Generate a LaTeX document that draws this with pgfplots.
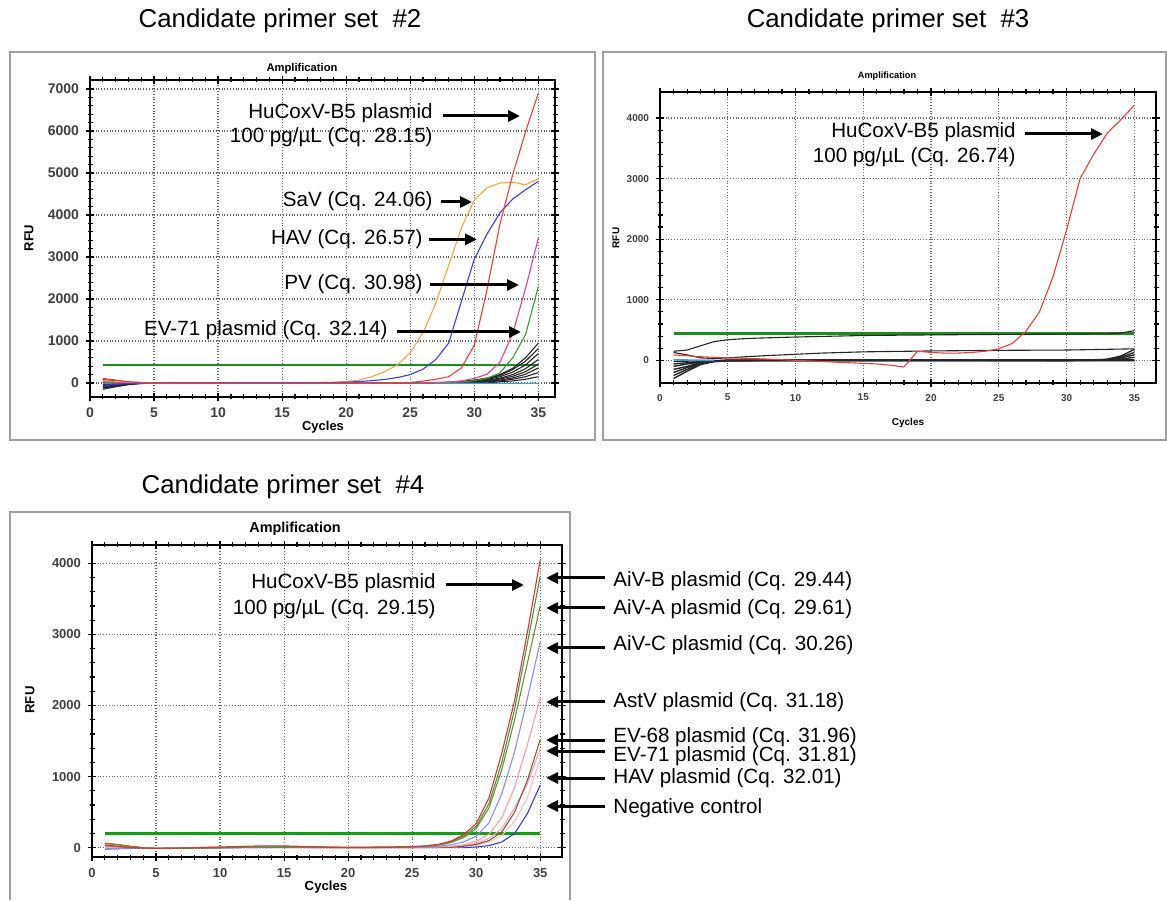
\documentclass[border=0pt]{standalone}
\usepackage{pgfplots}
\pgfplotsset{compat=1.18}
\usepackage{fontspec}
\setmainfont{Liberation Sans}
\usetikzlibrary{arrows.meta}
\definecolor{cOrange}{HTML}{F5A347}
\definecolor{cBlue}{HTML}{3D3DE0}
\definecolor{cRed}{HTML}{F03C3C}
\definecolor{cPink}{HTML}{E8408A}
\definecolor{cGreen}{HTML}{3A9A3A}
\definecolor{cThr}{HTML}{1E8C1E}
\definecolor{cThrB}{HTML}{10A010}
\definecolor{cNC}{HTML}{3AA0DC}
\definecolor{dRed}{HTML}{E83030}
\definecolor{dGreen}{HTML}{2E9E4A}
\definecolor{dOlive}{HTML}{7A8A30}
\definecolor{dLBlue}{HTML}{8C8CF5}
\definecolor{dSalmon}{HTML}{F4A0A0}
\definecolor{dPink}{HTML}{F5A0C8}
\definecolor{dBrown}{HTML}{8B5A2B}
\definecolor{dLPink}{HTML}{F9C0C8}
\definecolor{dBlue}{HTML}{3A3AD0}
\definecolor{frame}{HTML}{A0A0A0}
\pgfplotsset{
  pcr/.style={
    scale only axis, anchor=south west,
    axis line style={line width=0.7pt},
    xmin=0, xtick={0,5,...,35}, minor x tick num=4, minor y tick num=4,
    grid=major, major grid style={densely dotted, black!60, line width=0.6pt},
    tick align=center, major tick length=4pt, minor tick length=2.5pt,
    tick style={black, line width=0.6pt},
    /pgf/number format/assume math mode=true,
    /pgf/number format/set thousands separator={},
    every axis plot/.append style={line width=0.55pt, no marks},
  }
}
\tikzset{ann/.style={font=\fontsize{10.3}{12}\selectfont, inner sep=0pt},
  arr/.style={line width=1.5pt, -{Triangle[length=6pt,width=5.5pt]}}}
\begin{document}
\begin{tikzpicture}
\useasboundingbox (0,0) rectangle (583.5pt,450pt);
% frames
\draw[frame, line width=0.6pt] (5pt,230pt) rectangle (297.5pt,424pt);
\draw[frame, line width=0.6pt] (301.5pt,230pt) rectangle (583pt,424pt);
\draw[frame, line width=0.6pt] (5pt,0pt) -- (5pt,194pt) -- (285pt,194pt) -- (285pt,0pt);
% titles
\node[font=\fontsize{12.9}{15}\selectfont] at (140pt,439.5pt) {Candidate primer set \ \#2};
\node[font=\fontsize{12.9}{15}\selectfont] at (444pt,439.5pt) {Candidate primer set \ \#3};
\node[font=\fontsize{12.9}{15}\selectfont] at (141.5pt,206.5pt) {Candidate primer set \ \#4};

% ---------------- Panel #2 ----------------
\begin{axis}[pcr, at={(45pt,251.5pt)}, width=232.5pt, height=158.5pt,
  xmax=36.3, ymin=-333, ymax=7214, ytick={0,1000,...,7000},
  ticklabel style={font=\fontsize{7}{8}\selectfont\bfseries, text=black!75}]
\addplot[cThr, line width=1pt] coordinates {(1,420)(35,420)};
\addplot[black!85] coordinates {(1,-150)(2,-90)(3,-40)(4,-10)(5,0)(27,0)(28,20)(29,40)(30,70)(31,120)(32,200)(33,350)(34,600)(35,950)};
\addplot[black!85] coordinates {(1,-120)(2,-70)(3,-30)(4,-10)(5,0)(28,5)(29,30)(30,55)(31,100)(32,180)(33,320)(34,520)(35,820)};
\addplot[black!85] coordinates {(1,-80)(2,-50)(3,-20)(4,-5)(5,0)(28,0)(29,25)(30,45)(31,85)(32,150)(33,260)(34,430)(35,700)};
\addplot[black!85] coordinates {(1,-40)(2,-20)(3,-5)(5,0)(29,5)(30,35)(31,65)(32,115)(33,200)(34,340)(35,560)};
\addplot[black!85] coordinates {(1,50)(2,30)(3,10)(5,0)(29,5)(30,30)(31,55)(32,95)(33,160)(34,270)(35,450)};
\addplot[black!85] coordinates {(1,80)(2,50)(3,20)(5,0)(30,5)(31,40)(32,70)(33,120)(34,210)(35,360)};
\addplot[black!85] coordinates {(1,-100)(2,-60)(3,-25)(5,0)(30,5)(31,30)(32,50)(33,90)(34,150)(35,250)};
\addplot[black!85] coordinates {(1,0)(31,0)(32,30)(33,50)(34,90)(35,150)};
\addplot[cNC] coordinates {(1,0)(20,0)(35,-10)};
\addplot[cGreen] coordinates {(1,30)(3,5)(5,0)(28,5)(29,25)(30,55)(31,110)(32,240)(33,600)(34,1150)(35,2300)};
\addplot[cPink] coordinates {(1,40)(2,20)(3,5)(5,0)(26,5)(27,15)(28,25)(29,50)(30,110)(31,210)(32,490)(33,1180)(34,2250)(35,3450)};
\addplot[cOrange] coordinates {(1,60)(2,40)(3,20)(4,10)(5,5)(8,10)(17,14)(18,16)(19,22)(20,35)(21,70)(22,150)(23,270)(24,430)(25,720)(26,1200)(27,1900)(28,2800)(29,3700)(30,4350)(31,4650)(32,4760)(33,4780)(34,4720)(35,4860)};
\addplot[cBlue] coordinates {(1,-60)(2,-30)(3,-10)(4,0)(5,5)(19,8)(20,20)(21,35)(22,55)(23,85)(24,130)(25,200)(26,330)(27,560)(28,950)(29,1950)(30,2950)(31,3550)(32,4050)(33,4380)(34,4600)(35,4800)};
\addplot[cRed] coordinates {(1,110)(2,70)(3,30)(4,10)(5,0)(24,5)(25,15)(26,45)(27,90)(28,150)(29,360)(30,900)(31,2230)(32,3780)(33,4960)(34,5980)(35,6900)};
\end{axis}
\node[font=\fontsize{5.6}{7}\selectfont\bfseries] at (151pt,415.5pt) {Amplification};
\node[font=\fontsize{6.5}{8}\selectfont\bfseries] at (161.5pt,236.5pt) {Cycles};
\node[font=\fontsize{6.5}{8}\selectfont\bfseries, rotate=90] at (14.5pt,331pt) {RFU};
\node[ann, anchor=east] at (216.5pt,393.5pt) {HuCoxV-B5 plasmid};
\node[ann, anchor=east] at (216.5pt,381.5pt) {100 pg/µL (Cq. 28.15)};
\draw[arr] (221.5pt,392pt) -- (260pt,392pt);
\node[ann, anchor=east] at (216.5pt,349.5pt) {SaV (Cq. 24.06)};
\draw[arr] (220.5pt,349pt) -- (236pt,349pt);
\node[ann, anchor=east] at (211.5pt,330.5pt) {HAV (Cq. 26.57)};
\draw[arr] (214.5pt,330.3pt) -- (238.5pt,330.3pt);
\node[ann, anchor=east] at (211.5pt,307.8pt) {PV (Cq. 30.98)};
\draw[arr] (215pt,307.5pt) -- (259.5pt,307.5pt);
\node[ann, anchor=east] at (194pt,285pt) {EV-71 plasmid (Cq. 32.14)};
\draw[arr] (198.5pt,284pt) -- (260.5pt,284pt);

% ---------------- Panel #3 ----------------
\begin{axis}[pcr, at={(330pt,258.5pt)}, width=248pt, height=145.5pt,
  xmax=36.6, ymin=-374, ymax=4429, ytick={0,1000,...,4000},
  ticklabel style={font=\fontsize{5}{6}\selectfont\bfseries, text=black!75}]
\addplot[cThr, line width=1.5pt] coordinates {(1,440)(35,440)};
\addplot[black!85] coordinates {(1,150)(2,170)(3,240)(4,310)(5,340)(6,355)(7,365)(8,372)(10,385)(12,395)(15,410)(20,420)(25,428)(30,432)(33,438)(34,450)(35,490)};
\addplot[black!85] coordinates {(1,130)(2,90)(3,40)(4,30)(5,40)(6,55)(8,80)(10,100)(12,120)(15,140)(20,155)(25,165)(30,170)(35,190)};
\addplot[black!85, line width=0.7pt] coordinates {(1,-300)(2,-180)(3,-70)(4,-20)(5,-10)(8,0)(15,5)(20,5)(25,0)(30,-5)(32,0)(33,20)(34,70)(35,180)};
\addplot[black!85, line width=0.7pt] coordinates {(1,-250)(2,-150)(3,-60)(4,-20)(5,-5)(10,0)(20,0)(30,0)(33,10)(34,50)(35,130)};
\addplot[black!85, line width=0.7pt] coordinates {(1,-200)(2,-120)(3,-50)(4,-15)(5,0)(20,0)(30,0)(33,10)(34,40)(35,90)};
\addplot[black!85, line width=0.7pt] coordinates {(1,-150)(2,-100)(3,-40)(4,-10)(5,0)(30,0)(34,20)(35,50)};
\addplot[black!85, line width=0.7pt] coordinates {(1,-100)(2,-60)(3,-30)(4,-10)(5,0)(35,10)};
\addplot[black!85, line width=0.7pt] coordinates {(1,-60)(2,-40)(3,-20)(5,0)(35,0)};
\addplot[black!85, line width=0.7pt] coordinates {(1,-20)(3,-5)(35,-5)};
\addplot[cNC, line width=0.8pt] coordinates {(1,10)(2,5)(3,0)(4,0)};
\addplot[cRed] coordinates {(1,90)(2,75)(3,60)(4,50)(5,40)(6,35)(7,28)(8,20)(9,10)(10,0)(11,-10)(12,-20)(13,-30)(14,-40)(15,-50)(16,-60)(17,-80)(18,-110)(19,150)(20,130)(21,120)(22,120)(23,130)(24,150)(25,190)(26,280)(27,480)(28,800)(29,1380)(30,2150)(31,3000)(32,3400)(33,3750)(34,3970)(35,4210)};
\end{axis}
\node[font=\fontsize{4.6}{6}\selectfont\bfseries] at (443.5pt,412pt) {Amplification};
\node[font=\fontsize{5}{6}\selectfont\bfseries] at (454pt,238.5pt) {Cycles};
\node[font=\fontsize{5}{6}\selectfont\bfseries, rotate=90] at (308pt,331pt) {RFU};
\node[ann, anchor=east] at (508pt,384pt) {HuCoxV-B5 plasmid};
\node[ann, anchor=east] at (508pt,371.3pt) {100 pg/µL (Cq. 26.74)};
\draw[arr] (512.5pt,383pt) -- (551.5pt,383pt);

% ---------------- Panel #4 ----------------
\begin{axis}[pcr, at={(46pt,21.5pt)}, width=235pt, height=156pt,
  xmax=36.7, ymin=-131, ymax=4258, ytick={0,1000,...,4000},
  ticklabel style={font=\fontsize{6.5}{8}\selectfont\bfseries, text=black!75}]
\addplot[cThrB, line width=1.1pt] coordinates {(1,200)(35,200)};
\addplot[dBlue] coordinates {(1,-20)(3,-10)(10,0)(29,0)(30,10)(31,30)(32,80)(33,200)(34,480)(35,880)};
\addplot[dLPink] coordinates {(1,0)(28,5)(29,15)(30,35)(31,80)(32,170)(33,370)(34,700)(35,1250)};
\addplot[dPink] coordinates {(1,10)(3,0)(28,10)(29,25)(30,60)(31,130)(32,270)(33,560)(34,900)(35,1400)};
\addplot[dBrown] coordinates {(1,65)(2,45)(3,20)(4,0)(5,-10)(8,-10)(12,5)(16,5)(20,0)(25,0)(28,5)(29,20)(30,45)(31,100)(32,220)(33,500)(34,950)(35,1520)};
\addplot[dSalmon] coordinates {(1,20)(3,0)(10,0)(20,0)(27,10)(28,20)(29,40)(30,90)(31,190)(32,420)(33,850)(34,1450)(35,2100)};
\addplot[dLBlue] coordinates {(1,-20)(2,-10)(3,-5)(5,-10)(15,5)(20,0)(26,5)(27,20)(28,40)(29,80)(30,160)(31,350)(32,760)(33,1350)(34,2100)(35,2900)};
\addplot[dOlive] coordinates {(1,60)(2,40)(3,15)(4,0)(5,-10)(7,-10)(10,0)(13,10)(16,10)(20,0)(24,5)(26,18)(27,35)(28,70)(29,140)(30,270)(31,560)(32,1100)(33,1800)(34,2600)(35,3400)};
\addplot[dGreen] coordinates {(1,30)(2,15)(3,0)(5,-10)(10,5)(15,10)(20,5)(25,15)(26,20)(27,40)(28,80)(29,160)(30,300)(31,620)(32,1200)(33,1950)(34,2880)(35,3820)};
\addplot[dRed] coordinates {(1,40)(2,20)(3,5)(4,-5)(5,-10)(7,-5)(9,5)(11,15)(13,25)(15,25)(17,15)(19,5)(21,0)(23,5)(25,15)(26,25)(27,45)(28,90)(29,180)(30,340)(31,700)(32,1330)(33,2070)(34,3030)(35,4050)};
\end{axis}
\node[font=\fontsize{7.2}{9}\selectfont\bfseries] at (147.5pt,185.5pt) {Amplification};
\node[font=\fontsize{6.6}{8}\selectfont\bfseries] at (163pt,6.5pt) {Cycles};
\node[font=\fontsize{6.6}{8}\selectfont\bfseries, rotate=90] at (15pt,100pt) {RFU};
\node[ann, anchor=east] at (218pt,158.3pt) {HuCoxV-B5 plasmid};
\node[ann, anchor=east] at (218pt,145.5pt) {100 pg/µL (Cq. 29.15)};
\draw[arr] (223pt,157.5pt) -- (262pt,157.5pt);
\node[ann, anchor=west] at (306.5pt,159.5pt) {AiV-B plasmid (Cq. 29.44)};
\node[ann, anchor=west] at (306.5pt,145.5pt) {AiV-A plasmid (Cq. 29.61)};
\node[ann, anchor=west] at (306.5pt,127.5pt) {AiV-C plasmid (Cq. 30.26)};
\node[ann, anchor=west] at (306.5pt,99pt) {AstV plasmid (Cq. 31.18)};
\node[ann, anchor=west] at (306.5pt,81.5pt) {EV-68 plasmid (Cq. 31.96)};
\node[ann, anchor=west] at (306.5pt,72pt) {EV-71 plasmid (Cq. 31.81)};
\node[ann, anchor=west] at (306.5pt,61pt) {HAV plasmid (Cq. 32.01)};
\node[ann, anchor=west] at (306.5pt,46pt) {Negative control};
\foreach \yy in {161,146,126,99,80,74.5,61,47}
  \draw[arr] (302.5pt,\yy pt) -- (273pt,\yy pt);
\end{tikzpicture}
\end{document}
